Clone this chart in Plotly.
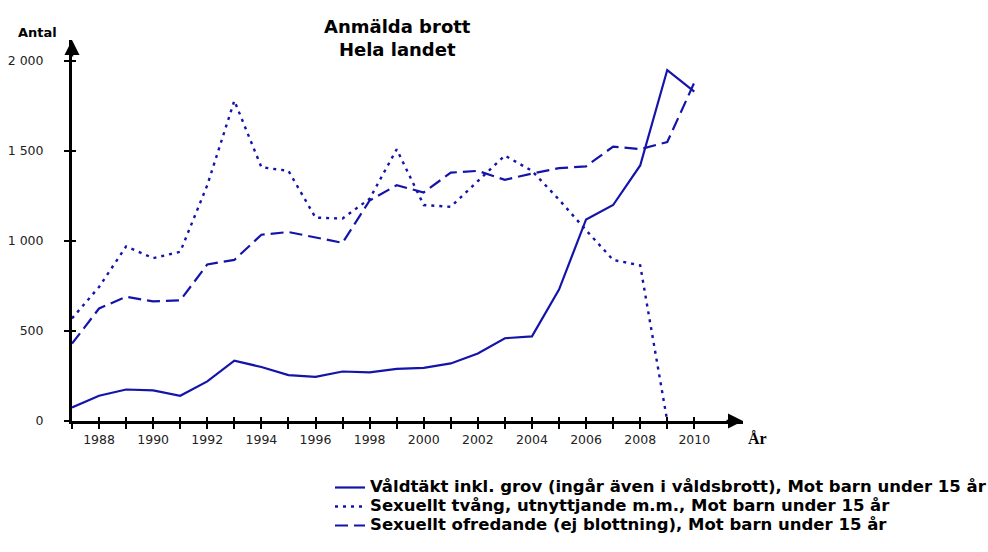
import plotly.graph_objects as go

years = list(range(1987, 2011))
valdtakt = [75, 140, 175, 170, 140, 220, 335, 300, 255, 245, 275, 270, 290, 295,
            320, 375, 460, 470, 730, 1120, 1200, 1420, 1950, 1830]
tvang_years = list(range(1987, 2010))
tvang = [570, 745, 970, 905, 940, 1310, 1780, 1410, 1390, 1130, 1125, 1235, 1510, 1200,
         1190, 1330, 1475, 1390, 1230, 1060, 895, 865, 0]
ofredande = [430, 625, 690, 665, 670, 870, 895, 1035, 1050, 1020, 990, 1225, 1310, 1270,
             1380, 1390, 1340, 1375, 1405, 1415, 1525, 1510, 1550, 1880]

names = ["Våldtäkt inkl. grov (ingår även i våldsbrott), Mot barn under 15 år",
         "Sexuellt tvång, utnyttjande m.m., Mot barn under 15 år",
         "Sexuellt ofredande (ej blottning), Mot barn under 15 år"]

y_ticks = [0, 500, 1000, 1500, 2000]
y_ticktext = ["0", "500", "1 000", "1 500", "2 000"]
x_ticks = list(range(1987, 2011))
x_ticktext = [str(y) if y % 2 == 0 else "" for y in x_ticks]

L, R, T, B = 72, 245, 40, 131
W, H = 988, 552
pw, ph = W - L - R, H - T - B


def px(x):
    return (x - L) / pw


def py(y):
    return (H - B - y) / ph


def leg(name):
    return '<span style="font-size:16.5px"><b>' + name + '</b></span>'


color = "#1414aa"
fig = go.Figure()
fig.add_trace(go.Scatter(x=years, y=valdtakt, mode="lines", name=leg(names[0]),
                         line=dict(color=color, width=2.2, dash="solid")))
fig.add_trace(go.Scatter(x=tvang_years, y=tvang, mode="lines", name=leg(names[1]),
                         line=dict(color=color, width=2.4, dash="3px,5px")))
fig.add_trace(go.Scatter(x=years, y=ofredande, mode="lines", name=leg(names[2]),
                         line=dict(color=color, width=2.2, dash="13px,6px")))

axfont = dict(family="DejaVu Sans", size=12.5, color="#222")
fig.update_layout(
    width=W, height=H,
    margin=dict(l=L, r=R, t=T, b=B, autoexpand=False),
    plot_bgcolor="white", paper_bgcolor="white",
    showlegend=True,
    legend=dict(x=px(330), y=py(473), xanchor="left", yanchor="top",
                font=dict(family="DejaVu Sans", size=11.5, color="black"),
                bgcolor="rgba(0,0,0,0)", tracegroupgap=0, itemwidth=30),
    xaxis=dict(range=[1987, 2011.8], tickmode="array", tickvals=x_ticks, ticktext=x_ticktext,
               ticks="outside", ticklen=5, tickwidth=2, tickcolor="black", automargin=False,
               showline=True, linecolor="black", linewidth=3, showgrid=False, zeroline=False,
               tickfont=axfont),
    yaxis=dict(range=[0, 2117], tickmode="array", tickvals=y_ticks, ticktext=y_ticktext,
               ticks="outside", ticklen=5, tickwidth=2, tickcolor="black", automargin=False,
               showline=True, linecolor="black", linewidth=3, showgrid=False, zeroline=False,
               tickfont=axfont, ticklabelstandoff=18),
    xaxis2=dict(range=[1987, 2011.8], overlaying="x", tickmode="array", tickvals=x_ticks,
                ticks="inside", ticklen=4, tickwidth=2, tickcolor="black", showticklabels=False,
                showline=False, showgrid=False, zeroline=False),
    yaxis2=dict(range=[0, 2117], overlaying="y", tickmode="array", tickvals=y_ticks,
                ticks="inside", ticklen=4, tickwidth=2, tickcolor="black", showticklabels=False,
                showline=False, showgrid=False, zeroline=False),
)
# invisible trace to activate the overlay axes
fig.add_trace(go.Scatter(x=[1987], y=[0], xaxis="x2", yaxis="y2", mode="markers",
                         marker=dict(opacity=0), showlegend=False, hoverinfo="skip"))

# axis arrows
fig.add_annotation(x=0, y=1, xref="paper", yref="paper", ax=0, ay=18, showarrow=True,
                   arrowhead=2, arrowsize=1.2, arrowwidth=2.5, arrowcolor="black", text="")
fig.add_annotation(x=1, y=0, xref="paper", yref="paper", ax=-18, ay=0, showarrow=True,
                   arrowhead=2, arrowsize=1.2, arrowwidth=2.5, arrowcolor="black", text="")

fig.add_annotation(x=px(37), y=py(33), xref="paper", yref="paper", text="<b>Antal</b>",
                   xanchor="center", yanchor="middle",
                   showarrow=False, font=dict(family="DejaVu Sans", size=13, color="black"))
fig.add_annotation(x=px(758), y=py(438), xref="paper", yref="paper",
                   text="<b>År</b>", showarrow=False, xanchor="center", yanchor="middle",
                   font=dict(family="Liberation Serif", size=16, color="black"))
fig.add_annotation(x=px(397), y=py(38), xref="paper", yref="paper",
                   text="<b>Anmälda brott<br>Hela landet</b>", showarrow=False,
                   xanchor="center", yanchor="middle",
                   font=dict(family="DejaVu Sans", size=18, color="black"))

fig.write_html("out.html", config={"displayModeBar": False},
               post_script="document.body.style.margin='0';")
